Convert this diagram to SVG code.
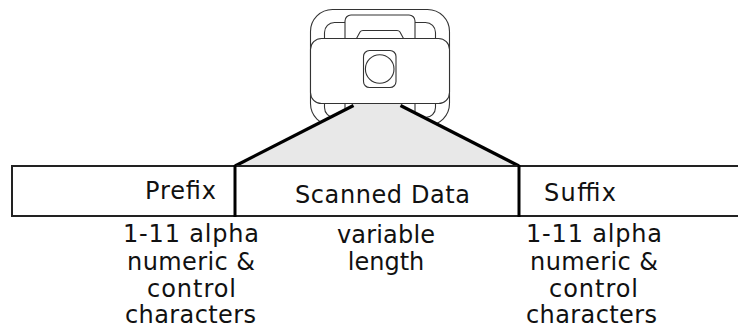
<svg xmlns="http://www.w3.org/2000/svg" width="738" height="326" viewBox="0 0 738 326">
<style>
.sc{fill:#fff;stroke:#333;stroke-width:1.1}
.t{font-family:"DejaVu Sans","Noto Sans",sans-serif;font-size:24px;fill:#111}
.cell{fill:#fff;stroke:#222;stroke-width:2}
.div{stroke:#000;stroke-width:3;fill:none}
.beam{stroke:#000;stroke-width:3.2;fill:none;stroke-linecap:butt}
</style>
<rect width="738" height="326" fill="#fff"/>
<g id="scanner">
<rect class="sc" x="310.5" y="9.5" width="139" height="116" rx="22"/>
<rect class="sc" x="324.5" y="22.5" width="111" height="95" rx="10"/>
<rect class="sc" x="345" y="15" width="70" height="103" rx="6"/>
<path class="sc" d="M356.5 38.5 L360 32 Q361 30.5 363 30.5 L397 30.5 Q399 30.5 400 32 L403.5 38.5"/>
<rect class="sc" x="310.5" y="38.5" width="139" height="65" rx="11"/>
<rect class="sc" x="363.5" y="50.5" width="32.5" height="37" rx="6"/>
<circle class="sc" cx="379.7" cy="69" r="14.3"/>
</g>
<g id="connectors">
<polygon points="353,104 401,104 519,166 235,166" fill="#e8e8e8"/>
<line class="beam" x1="353.5" y1="105.5" x2="235" y2="166"/>
<line class="beam" x1="400.5" y1="105.5" x2="519" y2="166"/>
</g>
<g id="record">
<rect class="cell" x="12" y="166" width="740" height="50"/>
<line class="div" x1="235" y1="165" x2="235" y2="217"/>
<line class="div" x1="519" y1="165" x2="519" y2="217"/>
</g>
<g id="prefix">
<text class="t" x="145" y="199" textLength="71">Prefix</text>
<text class="t" x="123" y="242" textLength="136">1-11 alpha</text>
<text class="t" x="127" y="269.5" textLength="128">numeric &amp;</text>
<text class="t" x="147" y="297" textLength="89">control</text>
<text class="t" x="125" y="322.5" textLength="131">characters</text>
</g>
<g id="scanned-data">
<text class="t" x="295" y="203" textLength="175">Scanned Data</text>
<text class="t" x="337" y="243" textLength="98">variable</text>
<text class="t" x="386" y="270" text-anchor="middle">length</text>
</g>
<g id="suffix">
<text class="t" x="544" y="201" textLength="72">Suffix</text>
<text class="t" x="526" y="242" textLength="136">1-11 alpha</text>
<text class="t" x="530" y="269.5" textLength="128">numeric &amp;</text>
<text class="t" x="549" y="297" textLength="89">control</text>
<text class="t" x="526" y="322.5" textLength="131">characters</text>
</g>
</svg>
